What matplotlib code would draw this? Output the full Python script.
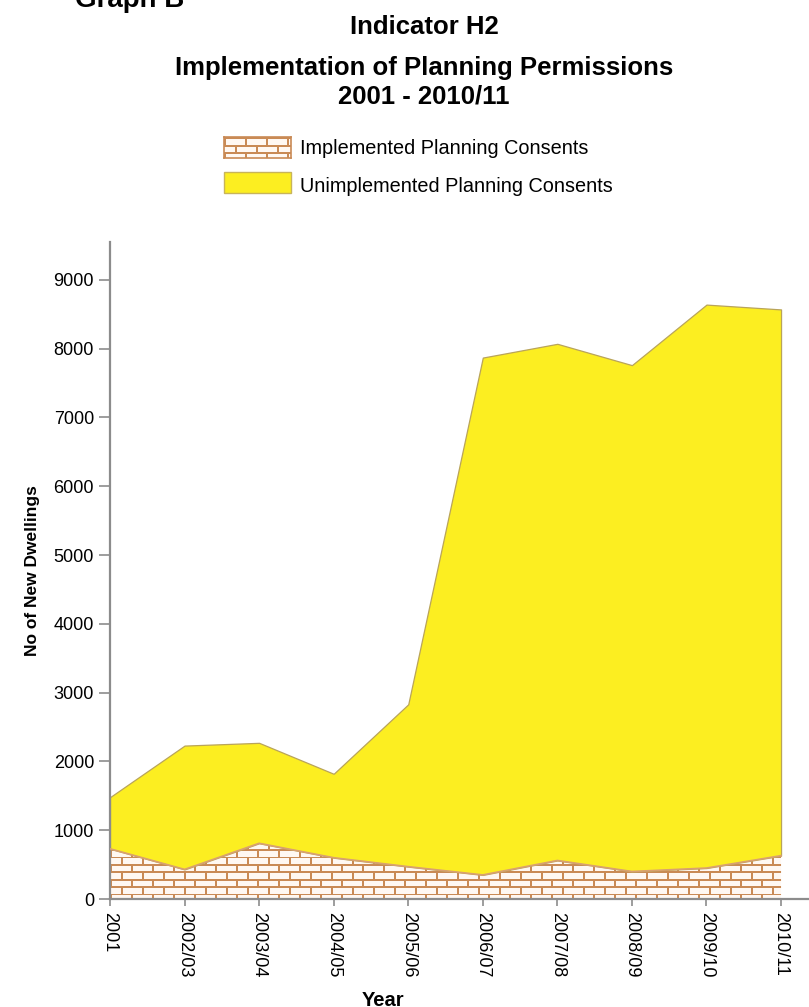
import matplotlib.pyplot as plt
import numpy as np
from matplotlib.patches import Polygon, Rectangle

plt.rcParams['font.family'] = ['Liberation Sans', 'DejaVu Sans']

years = ["2001", "2002/03", "2003/04", "2004/05", "2005/06",
         "2006/07", "2007/08", "2008/09", "2009/10", "2010/11"]
implemented = [730, 430, 810, 600, 470, 350, 560, 400, 450, 630]
total = [1480, 2230, 2270, 1820, 2830, 7870, 8070, 7760, 8640, 8570]

yellow = "#fcee21"
mortar = "#c98a55"
brick_fill = "#fff8f2"
axis_grey = "#8c8c8c"


def hex_rgb(c):
    return np.array([int(c[i:i + 2], 16) for i in (1, 3, 5)]) / 255


def brick_texture(h, w, row=7.4, brick=21.0, lw=1.7):
    # white bricks with orange mortar lines, one pixel per array cell
    yy, xx = np.mgrid[0:h, 0:w].astype(float)
    r = np.floor(yy / row)
    in_row = yy - r * row
    shift = np.where(r % 2 == 0, 0.0, brick / 2)
    in_col = (xx + shift) % brick
    line = (in_row < lw) | (in_col < lw)
    img = np.empty((h, w, 3))
    img[:] = hex_rgb(brick_fill)
    img[line] = hex_rgb(mortar)
    return img


fig = plt.figure(figsize=(8.09, 10.07), dpi=100)
ax = fig.add_axes([110 / 809, 1 - 899 / 1007, 699 / 809, 657 / 1007])

x = np.arange(len(years))
ax.fill_between(x, implemented, total, facecolor=yellow, edgecolor="#b9a45a",
                linewidth=0.9, zorder=2)

# brick pattern under the implemented line
verts = list(zip(x, implemented)) + [(x[-1], 0), (x[0], 0)]
clip = Polygon(verts, closed=True, transform=ax.transData, facecolor="none",
               edgecolor="none")
ax.add_patch(clip)
tex = brick_texture(657, 699)
im = ax.imshow(tex[::-1], extent=(0, 1, 0, 1), transform=ax.transAxes,
               origin="lower", interpolation="nearest", aspect="auto", zorder=1)
im.set_clip_path(clip)
ax.plot(x, implemented, color="#d9a070", linewidth=1.2, zorder=3)

ax.set_xlim(0, 9.375)
ax.set_ylim(0, 9550)
ax.set_xticks(x)
ax.set_xticklabels(years, rotation=270, fontsize=13)
ax.set_yticks(range(0, 9001, 1000))
ax.tick_params(axis="y", labelsize=13, length=8, width=1.2, color=axis_grey, pad=3.5)
ax.tick_params(axis="x", length=5, width=1.2, color=axis_grey, pad=4)
for s in ["top", "right"]:
    ax.spines[s].set_visible(False)
for s in ["left", "bottom"]:
    ax.spines[s].set_color(axis_grey)
    ax.spines[s].set_linewidth(1.6)

ax.set_ylabel("No of New Dwellings", fontsize=12.5, fontweight="bold", labelpad=10)
fig.text(383 / 809, 1 - 1001 / 1007, "Year", ha="center", va="center",
         fontsize=14.5, fontweight="bold")

# titles
fig.text(130 / 809, 1 - 0 / 1007, "Graph B", ha="center", va="center",
         fontsize=20, fontweight="bold")
fig.text(424 / 809, 1 - 27 / 1007, "Indicator H2", ha="center", va="center",
         fontsize=18.5, fontweight="bold")
fig.text(424 / 809, 1 - 68 / 1007, "Implementation of Planning Permissions",
         ha="center", va="center", fontsize=18.5, fontweight="bold")
fig.text(424 / 809, 1 - 97 / 1007, "2001 - 2010/11", ha="center", va="center",
         fontsize=18.5, fontweight="bold")

# legend
lax = fig.add_axes([224 / 809, 1 - 158 / 1007, 67 / 809, 21 / 1007])
lax.imshow(brick_texture(21, 67), interpolation="nearest", aspect="auto")
lax.set_xticks([])
lax.set_yticks([])
for sp in lax.spines.values():
    sp.set_color(mortar)
    sp.set_linewidth(1.2)
fig.add_artist(Rectangle((224 / 809, 1 - 193 / 1007), 67 / 809, 21 / 1007,
                         transform=fig.transFigure, facecolor=yellow,
                         edgecolor="#c8b45a", linewidth=1.0))
fig.text(300 / 809, 1 - 148 / 1007, "Implemented Planning Consents",
         ha="left", va="center", fontsize=14.3)
fig.text(300 / 809, 1 - 187 / 1007, "Unimplemented Planning Consents",
         ha="left", va="center", fontsize=14.3)

fig.savefig("out.png", dpi=100)
